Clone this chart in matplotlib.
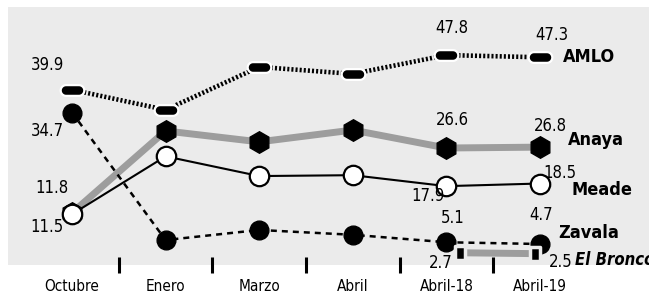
import numpy as np
import matplotlib.pyplot as plt
from matplotlib import font_manager
from matplotlib.path import Path

# pick a narrow face if one is installed
fonts = font_manager.fontManager.ttflist
names = {f.name for f in fonts}
if 'Liberation Sans Narrow' in names:
    plt.rcParams['font.family'] = ['Liberation Sans Narrow', 'DejaVu Sans']
    fs_num, fs_name, fs_tick = 13, 14.5, 12
elif any(f.name == 'DejaVu Sans' and 'ondensed' in str(f.stretch) for f in fonts):
    plt.rcParams['font.family'] = ['DejaVu Sans']
    plt.rcParams['font.stretch'] = 'condensed'
    fs_num, fs_name, fs_tick = 12, 13, 11
else:
    plt.rcParams['font.family'] = ['DejaVu Sans']
    fs_num, fs_name, fs_tick = 10.5, 11.5, 10

# data
# ---------------------------------------------------------------------------------------
months = ['Octubre', 'Enero', 'Marzo', 'Abril', 'Abril-18', 'Abril-19']
amlo = [39.9, 35.3, 45.1, 43.5, 47.8, 47.3]
anaya = [11.8, 30.5, 28.0, 30.7, 26.6, 26.8]
meade = [11.5, 24.7, 20.2, 20.4, 17.9, 18.5]
zavala = [34.7, 5.6, 7.9, 6.8, 5.1, 4.7]
bronco = [2.7, 2.5]
bronco_x = [4.15, 4.95]

bg = '#ebebeb'
grey = '#9d9d9d'

# pill shaped marker for AMLO
t = np.linspace(-np.pi / 2, np.pi / 2, 20)
right = np.column_stack([0.6 + 0.5 * np.cos(t), 0.5 * np.sin(t)])
left = np.column_stack([-0.6 - 0.5 * np.cos(t), -0.5 * np.sin(t)])
pill = Path(np.vstack([right, left, right[:1]]), closed=True)
tall_sq = Path([(-0.35, -0.5), (0.35, -0.5), (0.35, 0.5), (-0.35, 0.5), (-0.35, -0.5)], closed=True)

fig = plt.figure(figsize=(6.49, 3.0), dpi=100)
ax = fig.add_axes([8 / 649, 35 / 300, 641 / 649, 258 / 300])
ax.set_facecolor(bg)
x = np.arange(len(months))

# series
ax.plot(x, anaya, color=grey, lw=5, zorder=2)
ax.plot(x, anaya, 'h', color='k', ms=15.5, mec='k', zorder=3)

ax.plot(x, meade, color='k', lw=1.5, zorder=4,
        marker='o', ms=14, mfc='white', mec='k', mew=1.6)

ax.plot(x, zavala, color='k', lw=1.8, ls=(0, (2.4, 2.0)), zorder=5,
        marker='o', ms=13.5, mfc='k', mec='k')

ax.plot(x, amlo, color='k', lw=3.3, ls=(0, (0.45, 0.45)), zorder=6)
ax.plot(x, amlo, ls='none', marker=pill, ms=17, mfc='k', mec='white', mew=1.6, zorder=7)

ax.plot(bronco_x, bronco, color=grey, lw=5, zorder=5,
        marker=tall_sq, ms=10, mfc='k', mec=bg, mew=2.5)

# value labels (offsets in pixels from the point)
num = dict(textcoords='offset pixels', ha='center', va='center', fontsize=fs_num, zorder=8)
ax.annotate('39.9', (0, amlo[0]), xytext=(-25, 25), **num)
ax.annotate('34.7', (0, zavala[0]), xytext=(-25, -18), **num)
ax.annotate('11.8', (0, anaya[0]), xytext=(-20, 25), **num)
ax.annotate('11.5', (0, meade[0]), xytext=(-25, -13), **num)
ax.annotate('47.8', (4, amlo[4]), xytext=(5, 27), **num)
ax.annotate('47.3', (5, amlo[5]), xytext=(12, 22), **num)
ax.annotate('26.6', (4, anaya[4]), xytext=(6, 28), **num)
ax.annotate('26.8', (5, anaya[5]), xytext=(10, 21), **num)
ax.annotate('17.9', (4, meade[4]), xytext=(-18, -10), **num)
ax.annotate('18.5', (5, meade[5]), xytext=(20, 11), **num)
ax.annotate('5.1', (4, zavala[4]), xytext=(6, 24), **num)
ax.annotate('4.7', (5, zavala[5]), xytext=(1, 29), **num)
ax.annotate('2.7', (bronco_x[0], bronco[0]), xytext=(-20, -10), **num)
ax.annotate('2.5', (bronco_x[1], bronco[1]), xytext=(25, -8), **num)

# candidate names
name = dict(textcoords='offset pixels', ha='left', va='center', fontsize=fs_name,
            fontweight='bold', zorder=8, annotation_clip=False)
ax.annotate('AMLO', (5, amlo[5]), xytext=(23, 0), **name)
ax.annotate('Anaya', (5, anaya[5]), xytext=(28, 7), **name)
ax.annotate('Meade', (5, meade[5]), xytext=(32, -6), **name)
ax.annotate('Zavala', (5, zavala[5]), xytext=(18, 11), **name)
ax.annotate('El Bronco', (bronco_x[1], bronco[1]), xytext=(40, -6), style='italic',
            **{**name, 'fontsize': fs_num})

# axes
ax.set_xlim(-0.684, 6.165)
ax.set_ylim(-0.09, 58.77)
ax.set_xticks(x)
ax.set_xticklabels(months, fontsize=fs_tick)
ax.set_xticks(x[:-1] + 0.5, minor=True)
ax.tick_params(axis='x', which='major', length=0, pad=10)
ax.tick_params(axis='x', which='minor', direction='inout', length=11.5, width=2.2, color='k')
ax.set_yticks([])
for s in ax.spines.values():
    s.set_visible(False)

fig.savefig('out.png', dpi=100)
